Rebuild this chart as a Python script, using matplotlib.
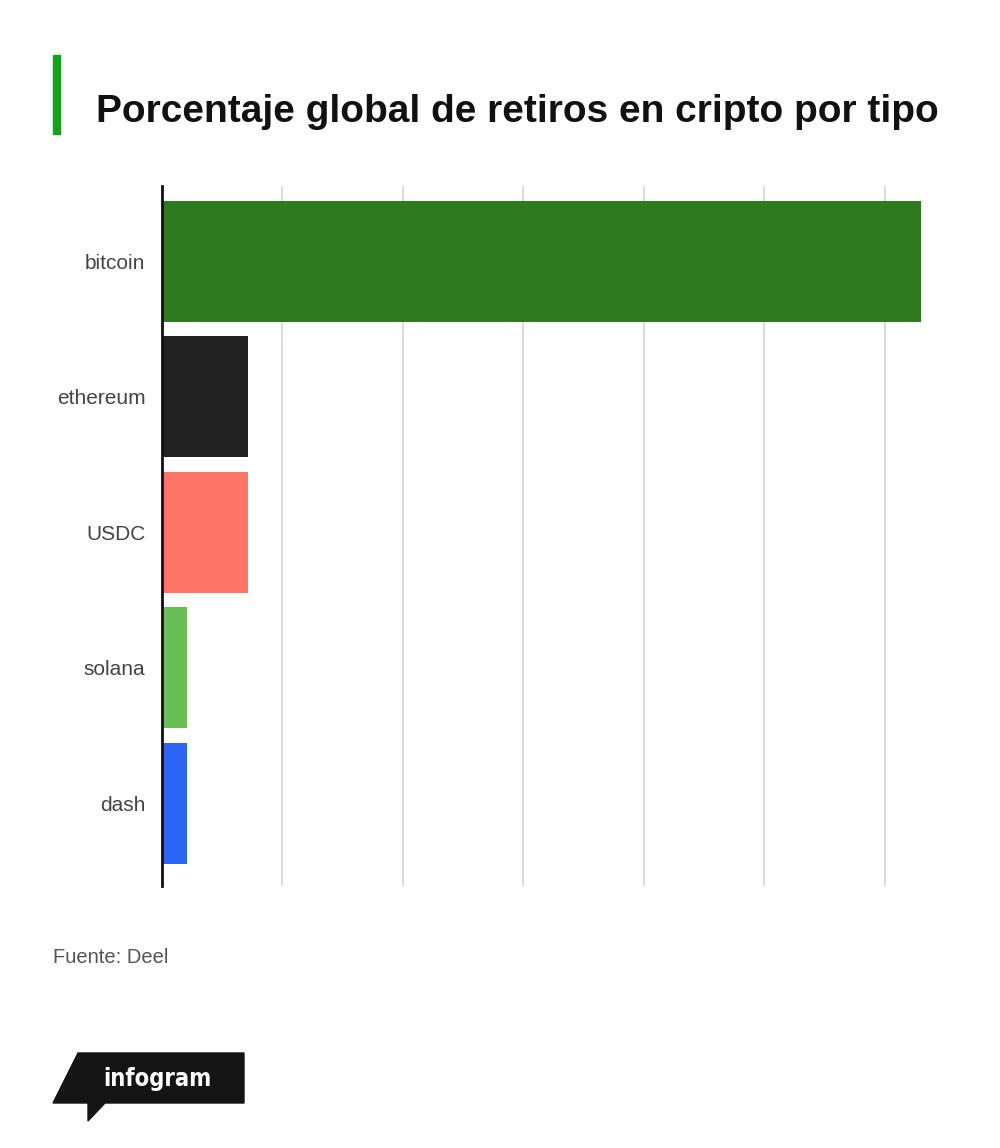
import matplotlib.pyplot as plt
from matplotlib.patches import Polygon, Rectangle

# data
coins = ["bitcoin", "ethereum", "USDC", "solana", "dash"]
shares = [63.0, 7.1, 7.1, 2.1, 2.1]
colors = ["#2e7a1f", "#222222", "#fe7467", "#67bf55", "#2d66f4"]
grid_ticks = [10, 20, 30, 40, 50, 60]

W, H = 1000, 1148
fig = plt.figure(figsize=(W / 100, H / 100), dpi=100)
fig.patch.set_facecolor("white")

# axes placed in pixel terms
left, right, top, bottom = 162, 933, 186, 886
ax = fig.add_axes([left / W, 1 - bottom / H, (right - left) / W, (bottom - top) / H])

ypos = list(range(len(coins)))
ax.barh(ypos, shares, height=0.89, color=colors, zorder=3)
ax.set_xlim(0, 64)
ax.set_ylim(4.61, -0.555)

ax.set_xticks(grid_ticks)
ax.set_xticklabels([])
ax.tick_params(axis="x", length=0)
ax.grid(axis="x", color="#d6d6d6", linewidth=1.2, zorder=0)

ax.set_yticks(ypos)
ax.set_yticklabels(coins, fontsize=15, color="#444444", family="Liberation Sans")
ax.tick_params(axis="y", length=0, pad=12)

for s in ["top", "right", "bottom"]:
    ax.spines[s].set_visible(False)
ax.spines["left"].set_linewidth(2)
ax.spines["left"].set_color("#111111")
ax.spines["left"].set_zorder(4)

# title with green accent bar
fig.patches.append(Rectangle((53 / W, 1 - 134 / H), 7 / W, 79 / H,
                             transform=fig.transFigure, color="#1b9e1b"))
fig.text(96 / W, 1 - 122 / H, "Porcentaje global de retiros en cripto por tipo",
         fontsize=28, fontweight="bold", color="#111111", family="Liberation Sans",
         ha="left", va="baseline")

fig.text(53 / W, 1 - 963 / H, "Fuente: Deel", fontsize=14.5, color="#555555",
         family="Liberation Sans", ha="left", va="baseline")

# infogram logo
def px(x, y):
    return (x / W, 1 - y / H)

logo = Polygon([px(78, 1053), px(244, 1053), px(244, 1103), px(105, 1103),
                px(88, 1121), px(88, 1103), px(53, 1103)],
               closed=True, transform=fig.transFigure, color="#141414")
fig.patches.append(logo)
fig.text(103 / W, 1 - 1086 / H, "infogram", fontsize=17, fontweight="bold",
         color="white", family="DejaVu Sans", stretch="condensed",
         ha="left", va="baseline")

fig.savefig("out.png", dpi=100)
